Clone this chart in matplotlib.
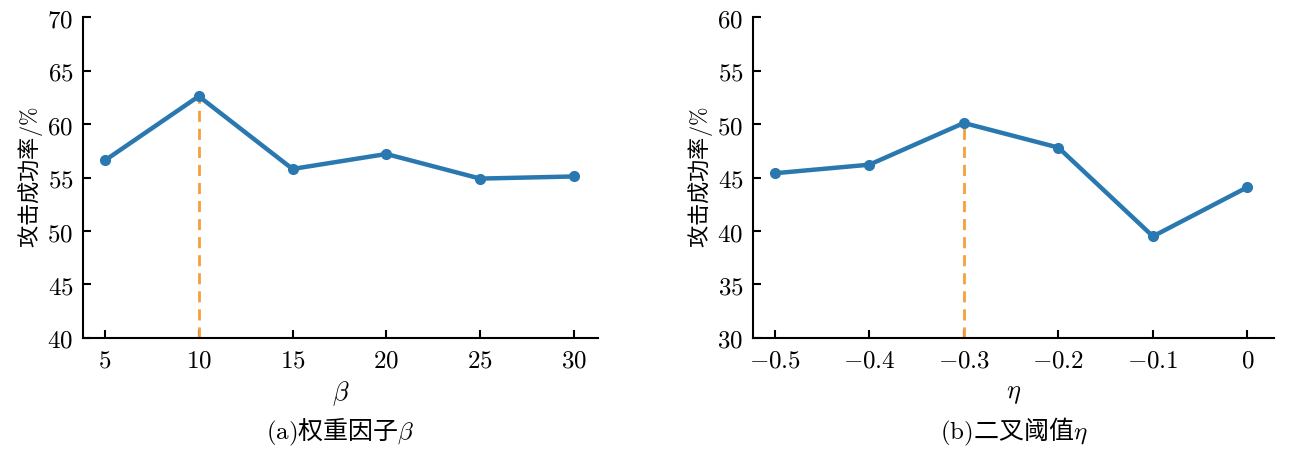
import matplotlib
matplotlib.use("Agg")
import matplotlib.pyplot as plt
from matplotlib.ticker import FuncFormatter

plt.rcParams["font.family"] = ["Noto Sans CJK SC", "DejaVu Sans"]
plt.rcParams["mathtext.fontset"] = "cm"
plt.rcParams["axes.unicode_minus"] = True

# panel (a): weight factor beta
beta = [5, 10, 15, 20, 25, 30]
beta_rate = [56.6, 62.6, 55.8, 57.2, 54.9, 55.1]
beta_best = 10

# panel (b): binary threshold eta
eta = [-0.5, -0.4, -0.3, -0.2, -0.1, 0]
eta_rate = [45.4, 46.2, 50.1, 47.8, 39.5, 44.1]
eta_best = -0.3

line_color = "#2a78b0"
dash_color = "#f5a03a"


def math_fmt(v, pos):
    return f"${v:g}$"


def draw_panel(ax, x, y, best, ylim, yticks, xlim, xlabel, caption):
    ymin = ylim[0]
    ax.plot([best, best], [ymin, y[x.index(best)]], color=dash_color,
            lw=2, ls=(0, (4, 2.5)), zorder=2)
    ax.plot(x, y, color=line_color, lw=3.2, marker="o", ms=7, zorder=3)
    ax.set_xlim(*xlim)
    ax.set_ylim(*ylim)
    ax.set_xticks(x)
    ax.set_yticks(yticks)
    ax.xaxis.set_major_formatter(FuncFormatter(math_fmt))
    ax.yaxis.set_major_formatter(FuncFormatter(math_fmt))
    ax.spines["top"].set_visible(False)
    ax.spines["right"].set_visible(False)
    for s in ("left", "bottom"):
        ax.spines[s].set_linewidth(1.5)
    ax.tick_params(direction="in", length=6, width=1.5, labelsize=18, pad=7)
    ax.set_xlabel(xlabel, fontsize=19, labelpad=4)
    ax.set_ylabel(r"攻击成功率$/\%$", fontsize=16, labelpad=2)
    ax.text(0.5, -0.293, caption, transform=ax.transAxes, ha="center",
            va="center", fontsize=18)


fig = plt.figure(figsize=(12.97, 4.5), dpi=100)
ax1 = fig.add_axes([0.064, 0.249, 0.397, 0.713])
ax2 = fig.add_axes([0.5806, 0.249, 0.402, 0.713])

draw_panel(ax1, beta, beta_rate, beta_best, (40, 70), range(40, 71, 5),
           (3.83, 31.28), r"$\beta$", r"$\mathrm{(a)}$权重因子$\beta$")
draw_panel(ax2, eta, eta_rate, eta_best, (30, 60), range(30, 61, 5),
           (-0.523, 0.0285), r"$\eta$", r"$\mathrm{(b)}$二叉阈值$\eta$")

fig.savefig("out.png", dpi=100)
